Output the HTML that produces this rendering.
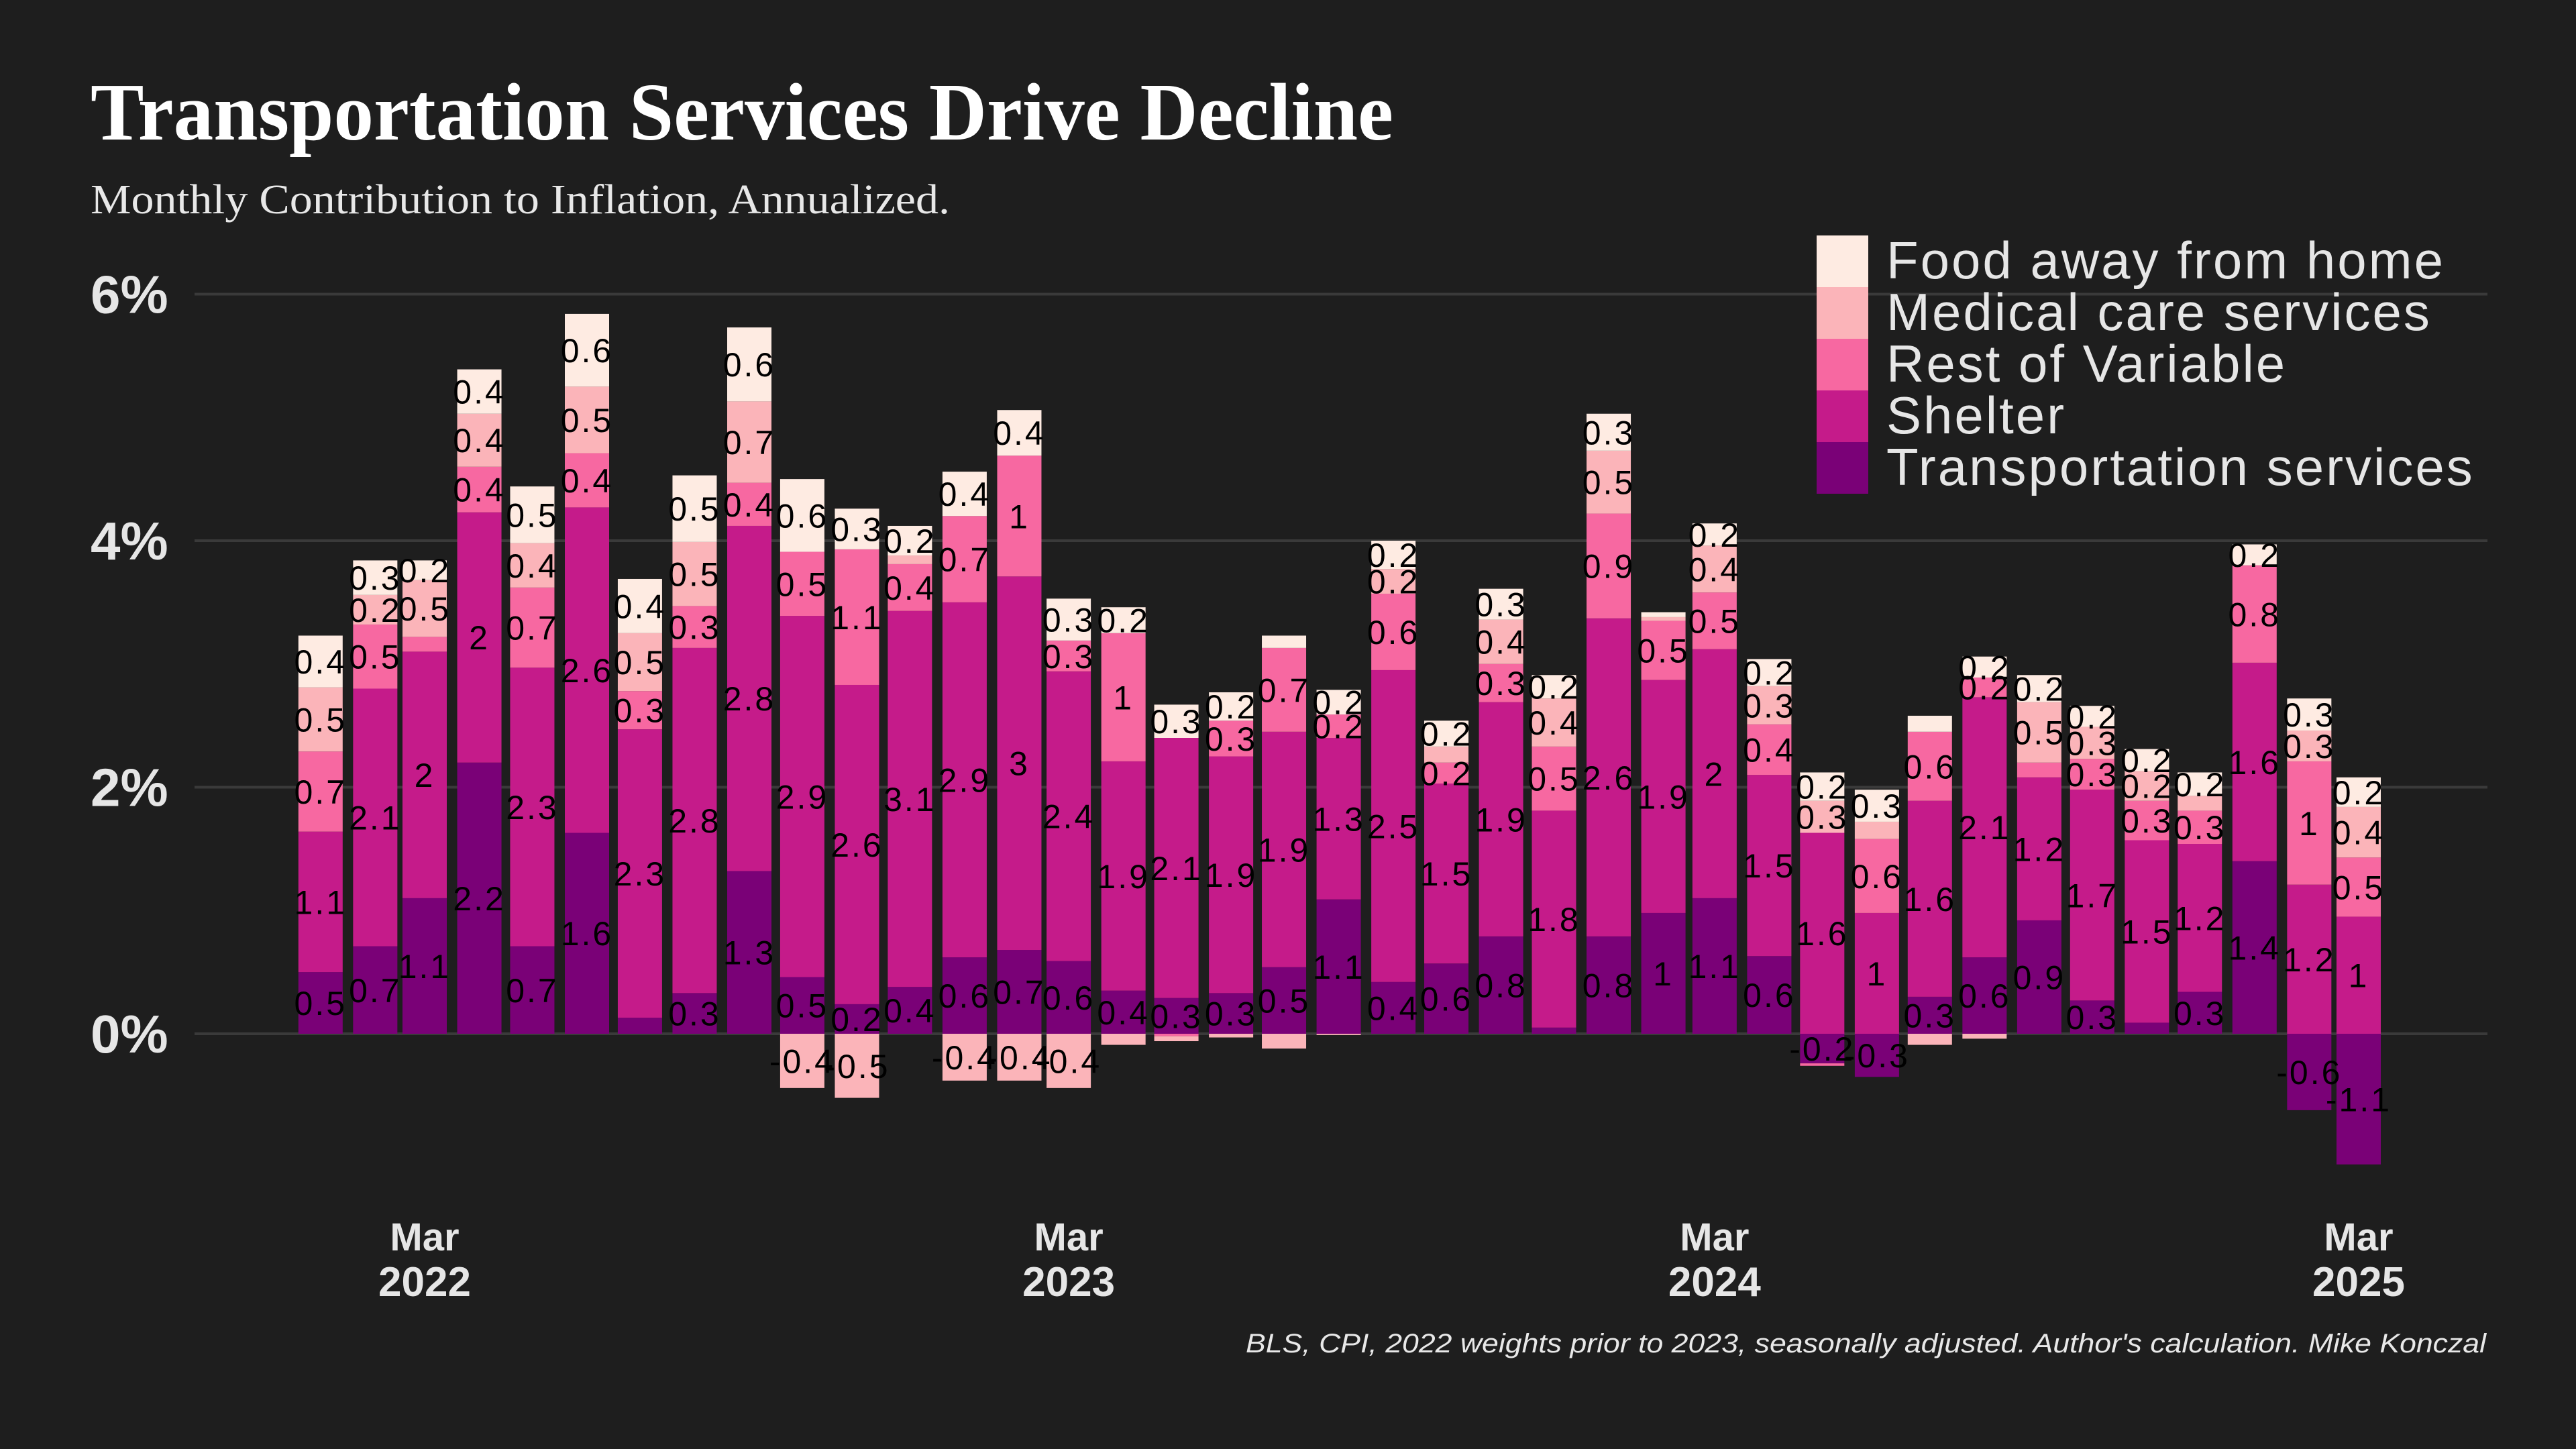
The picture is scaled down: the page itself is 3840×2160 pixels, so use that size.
<!DOCTYPE html>
<html>
<head>
<meta charset="utf-8">
<style>
html,body{margin:0;padding:0;background:#1e1e1e;}
svg{display:block;}
</style>
</head>
<body>
<svg id="chart" width="3840" height="2160" viewBox="0 0 3840 2160" xmlns="http://www.w3.org/2000/svg">
  <rect x="0" y="0" width="3840" height="2160" fill="#1e1e1e"/>
  <text x="135" y="208" font-family="Liberation Serif, serif" font-weight="bold" font-size="122" fill="#ffffff" textLength="1942" lengthAdjust="spacingAndGlyphs">Transportation Services Drive Decline</text>
  <text x="135" y="318" font-family="Liberation Serif, serif" font-size="62" fill="#e8e8e8" textLength="1281" lengthAdjust="spacingAndGlyphs">Monthly Contribution to Inflation, Annualized.</text>
  <g id="grid"></g>
  <g id="yaxis"></g>
  <g id="xaxis"></g>
  <g id="bars"></g>
  <g id="labels"></g>
  <g id="legend"></g>
  <text x="3706" y="2016" text-anchor="end" font-family="Liberation Sans, sans-serif" font-style="italic" font-size="40" fill="#e8e8e8" textLength="1849" lengthAdjust="spacingAndGlyphs">BLS, CPI, 2022 weights prior to 2023, seasonally adjusted. Author's calculation. Mike Konczal</text>
</svg>
<script>
const startYear = 2022;
const seriesNames = ["Transportation services","Shelter","Rest of Variable","Medical care services","Food away from home"];
const seriesColors = ["#7a0177","#c51b8a","#f768a1","#fbb4b9","#feebe2"];
const transport = [0.5,0.71,1.1,2.2,0.71,1.63,0.13,0.33,1.32,0.46,0.24,0.38,0.62,0.68,0.59,0.35,0.29,0.33,0.54,1.09,0.42,0.57,0.79,0.05,0.79,0.98,1.1,0.63,-0.24,-0.35,0.3,0.62,0.92,0.27,0.09,0.34,1.4,-0.62,-1.06];
const shelter = [1.14,2.09,2.0,2.03,2.26,2.64,2.34,2.8,2.8,2.93,2.59,3.05,2.88,3.03,2.35,1.86,2.11,1.92,1.91,1.31,2.53,1.46,1.9,1.76,2.58,1.89,2.02,1.47,1.63,0.98,1.59,2.11,1.16,1.71,1.48,1.2,1.61,1.21,0.95];
const restVariable = [0.65,0.52,0.12,0.37,0.65,0.44,0.31,0.34,0.35,0.52,1.1,0.38,0.7,0.98,0.25,1.04,-0.02,0.29,0.68,0.19,0.62,0.17,0.31,0.52,0.85,0.48,0.46,0.41,-0.02,0.6,0.56,0.16,0.12,0.25,0.32,0.27,0.79,1.0,0.48];
const medical = [0.52,0.24,0.46,0.43,0.36,0.54,0.47,0.52,0.66,-0.44,-0.52,0.07,-0.38,-0.38,-0.44,-0.09,-0.04,-0.03,-0.12,-0.01,0.2,0.13,0.36,0.39,0.51,0.03,0.38,0.31,0.26,0.14,-0.09,-0.04,0.49,0.26,0.24,0.12,0,0.25,0.41];
const foodAway = [0.42,0.28,0.16,0.36,0.46,0.59,0.44,0.54,0.6,0.59,0.33,0.24,0.36,0.37,0.34,0.21,0.27,0.23,0.1,0.2,0.23,0.21,0.25,0.19,0.3,0.04,0.18,0.22,0.23,0.26,0.13,0.17,0.22,0.17,0.18,0.19,0.17,0.26,0.24];
const yTicks = [0,2,4,6];
const yTickLabels = ["0%","2%","4%","6%"];
const xTickMonths = [2,14,26,38];
const xTickLabels = [["Mar","2022"],["Mar","2023"],["Mar","2024"],["Mar","2025"]];

const NS = "http://www.w3.org/2000/svg";
const series = [transport, shelter, restVariable, medical, foodAway];
const seriesKeys = ["transportation","shelter","rest-of-variable","medical-care","food-away"];
const dayPx = (3516 - 633) / 1096;
const ref = Date.UTC(2022, 2, 1);
function x(monthIndex){ const d = Date.UTC(startYear, monthIndex, 1); return 633 + (d - ref) / 86400000 * dayPx; }
function y(v){ return 1541 - v * 183.75; }
const barW = 66;
function mk(tag, attrs, parent){ const e = document.createElementNS(NS, tag); for (const k in attrs) e.setAttribute(k, attrs[k]); parent.appendChild(e); return e; }

const grid = document.getElementById('grid');
const yaxis = document.getElementById('yaxis');
yTicks.forEach((t,i)=>{
  const l = mk('line',{x1:290,x2:3708,y1:y(t),y2:y(t),stroke:'#3a3a3a','stroke-width':4},grid);
  
  
  const tx = mk('text',{x:135,y:y(t)+28,'font-family':'Liberation Sans, sans-serif','font-weight':'bold','font-size':80,fill:'#e6e6e6'},yaxis);
  tx.textContent = yTickLabels[i];
  
  
});
const xaxis = document.getElementById('xaxis');
xTickMonths.forEach((m,i)=>{
  const t1 = mk('text',{x:x(m),y:1864,'text-anchor':'middle','font-family':'Liberation Sans, sans-serif','font-weight':'bold','font-size':58,fill:'#e6e6e6'},xaxis);
  t1.textContent = xTickLabels[i][0];
  
  
  const t2 = mk('text',{x:x(m),y:1932,'text-anchor':'middle','font-family':'Liberation Sans, sans-serif','font-weight':'bold','font-size':62,fill:'#e6e6e6'},xaxis);
  t2.textContent = xTickLabels[i][1];
  
  
});

const bars = document.getElementById('bars');
const labels = document.getElementById('labels');
function fmt(v){ let r = Math.round(v*10)/10; if (Object.is(r,-0)) r = 0; return String(r); }
for (let i = 0; i < transport.length; i++){
  let pos = 0, neg = 0;
  const cx = x(i);
  for (let s = 0; s < series.length; s++){
    const v = series[s][i];
    if (v === 0) continue;
    let a, b;
    if (v > 0){ a = pos; b = pos + v; pos = b; } else { a = neg; b = neg + v; neg = b; }
    const top = y(Math.max(a,b)), bot = y(Math.min(a,b));
    const r = mk('rect',{x:cx-barW/2,y:top,width:barW,height:Math.max(bot-top,0.5),fill:seriesColors[s]},bars);
    
    
    if (Math.abs(Math.round(v*10)/10) >= 0.2){
      const t = mk('text',{x:cx,y:(top+bot)/2+18,'text-anchor':'middle','font-family':'Liberation Sans, sans-serif','font-size':50,'letter-spacing':3,fill:'#000000'},labels);
      t.textContent = fmt(v);
      
      
    }
  }
}

const legend = document.getElementById('legend');
for (let k = 0; k < 5; k++){
  const s = 4 - k;
  const yy = 351 + k*77;
  const r = mk('rect',{x:2708,y:yy,width:77,height:77,fill:seriesColors[s]},legend);
  
  
  const t = mk('text',{x:2812,y:yy+64,'font-family':'Liberation Sans, sans-serif','font-size':78,'letter-spacing':3,fill:'#e6e6e6'},legend);
  t.textContent = seriesNames[s];
  
  
}
</script>
</body>
</html>
